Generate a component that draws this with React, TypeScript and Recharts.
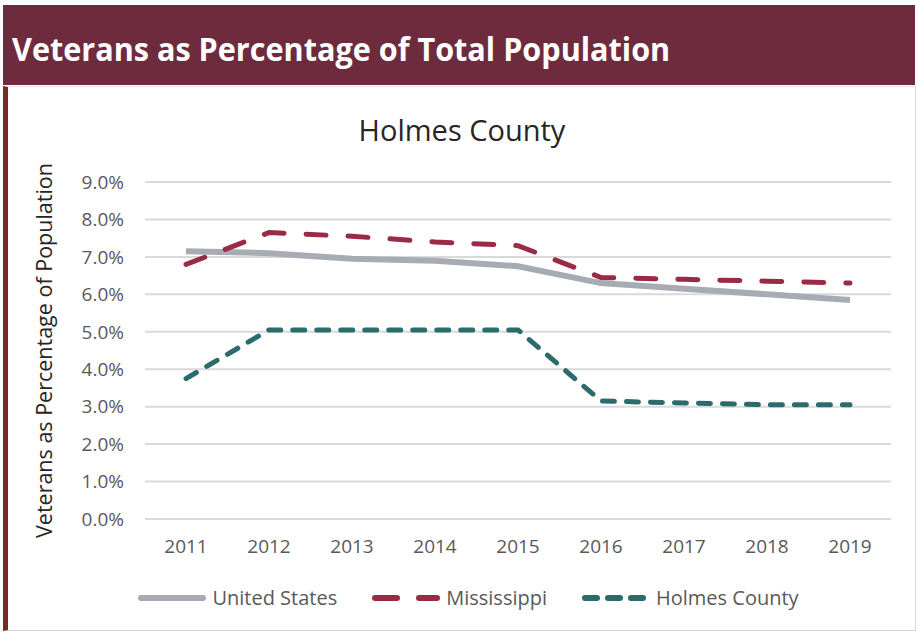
import React from 'react'
import { LineChart, Line, XAxis, YAxis, CartesianGrid, Label } from 'recharts'

const years = ['2011', '2012', '2013', '2014', '2015', '2016', '2017', '2018', '2019']
const unitedStates = [7.15, 7.1, 6.95, 6.9, 6.75, 6.3, 6.15, 6.0, 5.85]
const mississippi = [6.8, 7.65, 7.55, 7.4, 7.3, 6.45, 6.4, 6.35, 6.3]
const holmesCounty = [3.75, 5.05, 5.05, 5.05, 5.05, 3.15, 3.1, 3.05, 3.05]
const yTicks = [0, 1, 2, 3, 4, 5, 6, 7, 8, 9]

const data = years.map((year, i) => ({
  year,
  us: unitedStates[i],
  ms: mississippi[i],
  hc: holmesCounty[i],
}))

const FONT = '"Open Sans", sans-serif'
const TEXT = '#595959'

const legendItems = [
  { name: 'United States', color: '#a7acb4', dash: undefined },
  { name: 'Mississippi', color: '#9a2b45', dash: '22 22' },
  { name: 'Holmes County', color: '#2b6b6a', dash: '12 11' },
]

function LegendRow() {
  return (
    <div style={{ display: 'flex', justifyContent: 'center', gap: 34, fontFamily: FONT, fontSize: 20, color: TEXT }}>
      {legendItems.map(item => (
        <div key={item.name} style={{ display: 'flex', alignItems: 'center', gap: 5 }}>
          <svg width={70} height={10}>
            <line x1={4} y1={5} x2={66} y2={5} stroke={item.color} strokeWidth={6}
              strokeLinecap="round" strokeDasharray={item.dash} />
          </svg>
          <span>{item.name}</span>
        </div>
      ))}
    </div>
  )
}

export default function App() {
  return (
    <div style={{ position: 'absolute', left: 0, top: 0, width: 919, height: 634, background: '#fff', overflow: 'hidden' }}>
      <div style={{ position: 'absolute', left: 3, top: 5, width: 912, height: 80, background: '#6e2b3e' }}>
        <div style={{
          position: 'absolute', left: 9, top: 22, color: '#fff', fontFamily: FONT, fontWeight: 700,
          fontSize: 33, lineHeight: '44px', whiteSpace: 'nowrap', transform: 'scaleX(0.927)', transformOrigin: 'left',
        }}>
          Veterans as Percentage of Total Population
        </div>
      </div>
      <div style={{
        position: 'absolute', left: 3, top: 86, width: 913, height: 545,
        borderLeft: '5px solid #7a2a24', borderRight: '1px solid #d6d6d6', borderBottom: '1px solid #d6d6d6',
        borderTop: '1px solid #e4e4e4', boxSizing: 'border-box',
      }} />
      <div style={{
        position: 'absolute', left: 0, top: 110, width: 924, textAlign: 'center',
        fontFamily: FONT, fontSize: 29, color: '#262626', lineHeight: '40px',
      }}>
        Holmes County
      </div>
      <div style={{ position: 'absolute', left: 0, top: 0 }}>
        <LineChart width={919} height={634} data={data}
          margin={{ top: 182, right: 28, bottom: 0, left: 0 }}>
          <CartesianGrid vertical={false} stroke="#d9d9d9" strokeWidth={2} />
          <XAxis dataKey="year" axisLine={false} tickLine={false} tickSize={0} tickMargin={21}
            padding={{ left: 41, right: 41 }} height={115}
            tick={{ fontFamily: FONT, fontSize: 19, fill: TEXT }} />
          <YAxis type="number" domain={[0, 9]} ticks={yTicks} width={145} axisLine={false} tickLine={false}
            tickSize={0} tickMargin={21} tickFormatter={(v: number) => `${v.toFixed(1)}%`}
            tick={{ fontFamily: FONT, fontSize: 19, fill: TEXT }}>
            <Label value="Veterans as Percentage of Population" angle={-90} position="insideLeft" dx={39}
              style={{ fontFamily: FONT, fontSize: 21.5, fill: '#262626', textAnchor: 'middle' }} />
          </YAxis>
          <Line dataKey="us" stroke="#a7acb4" strokeWidth={6} dot={false} isAnimationActive={false} />
          <Line dataKey="ms" stroke="#9a2b45" strokeWidth={5} strokeDasharray="20 22" strokeLinecap="round"
            dot={false} isAnimationActive={false} />
          <Line dataKey="hc" stroke="#2b6b6a" strokeWidth={5} strokeDasharray="12 12" strokeLinecap="round"
            dot={false} isAnimationActive={false} />
        </LineChart>
      </div>
      <div style={{ position: 'absolute', left: 0, top: 584, width: 936 }}>
        <LegendRow />
      </div>
    </div>
  )
}
